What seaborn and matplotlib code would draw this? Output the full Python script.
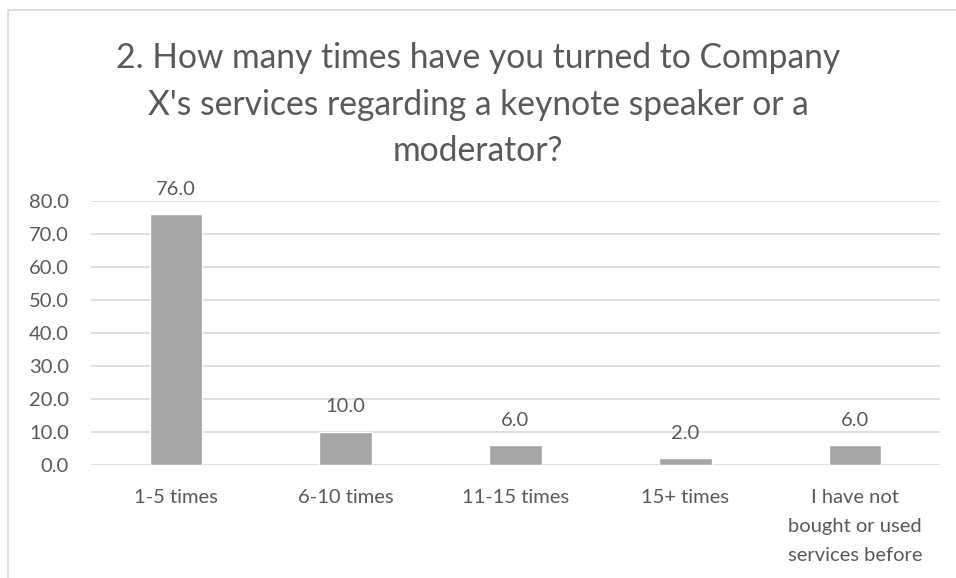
import matplotlib
matplotlib.use("Agg")
import matplotlib.pyplot as plt
import seaborn as sns
import pandas as pd

# chart data
categories = ["1-5 times", "6-10 times", "11-15 times", "15+ times",
              "I have not\nbought or used\nservices before"]
values = [76.0, 10.0, 6.0, 2.0, 6.0]
yticks = [0, 10, 20, 30, 40, 50, 60, 70, 80]
title = "2. How many times have you turned to Company\nX's services regarding a keynote speaker or a\nmoderator?"

df = pd.DataFrame({"category": categories, "value": values})

sns.set_theme(style="white")
plt.rcParams['font.family'] = ['Lato', 'DejaVu Sans']
text_color = "#595959"

fig = plt.figure(figsize=(9.56, 5.78), dpi=100)
ax = fig.add_axes([91 / 956, 1 - 465 / 578, 849 / 956, (465 - 201) / 578])

sns.barplot(data=df, x="category", y="value", color="#A5A5A5",
            width=0.31, saturation=1, ax=ax)

ax.set_ylim(0, 80)
ax.set_yticks(yticks)
ax.set_yticklabels([f"{t:.1f}" for t in yticks], fontsize=14.5, color=text_color)
ax.set_xticklabels(categories, fontsize=14.5, color=text_color, linespacing=1.88)
ax.tick_params(axis="y", length=0, pad=16)
ax.tick_params(axis="x", length=0, pad=17)
ax.set_xlabel("")
ax.set_ylabel("")
ax.grid(axis="y", color="#D9D9D9", linewidth=1.2)
ax.set_axisbelow(True)
for s in ax.spines.values():
    s.set_visible(False)

for p, v in zip(ax.patches, values):
    ax.annotate(f"{v:.1f}", (p.get_x() + p.get_width() / 2, p.get_height()),
                xytext=(0, 12), textcoords="offset points",
                ha="center", va="bottom", fontsize=14.5, color=text_color)

fig.text(0.5, 1 - 42 / 578, title, ha="center", va="top",
         fontsize=24.2, color=text_color, linespacing=1.56)

# outer chart border
fig.add_artist(plt.Rectangle((8 / 956, -0.1), 1.2, 1 - 10 / 578 + 0.1,
                             transform=fig.transFigure, fill=False,
                             edgecolor="#D9D9D9", linewidth=1.2))

fig.savefig("out.png", dpi=100)
